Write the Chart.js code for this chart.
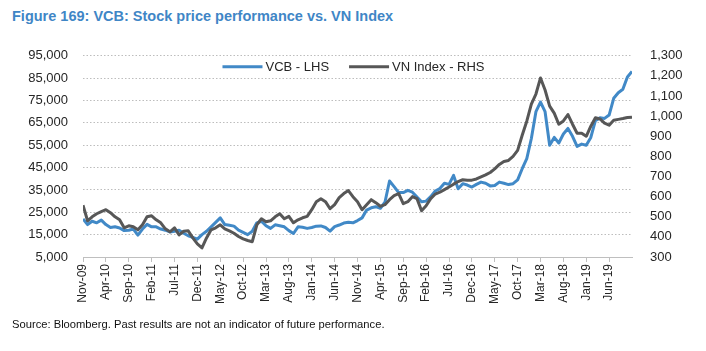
<!DOCTYPE html>
<html>
<head>
<meta charset="utf-8">
<script src="https://cdn.jsdelivr.net/npm/chart.js@4.4.1/dist/chart.umd.min.js"></script>
<style>
  html, body { margin: 0; padding: 0; background: #fff; }
  body { width: 706px; height: 351px; position: relative; overflow: hidden; font-family: 'Liberation Sans', Arial, sans-serif; }
  #title { position: absolute; left: 12px; top: 8px; font-weight: bold; font-size: 14.5px; color: #3f86c6; white-space: nowrap; }
  #wrap { position: absolute; left: 0; top: 30px; width: 706px; height: 290px; }
  #source { position: absolute; left: 12px; top: 318px; font-size: 11.2px; color: #111; white-space: nowrap; }
</style>
</head>
<body>
<div id="title">Figure 169: VCB: Stock price performance vs. VN Index</div>
<div id="wrap"><canvas id="chart"></canvas></div>
<div id="source">Source: Bloomberg. Past results are not an indicator of future performance.</div>
<script>
// x-axis tick labels, one every 5 months starting Nov-09
const tickLabels = ['Nov-09', 'Apr-10', 'Sep-10', 'Feb-11', 'Jul-11', 'Dec-11', 'May-12', 'Oct-12',
  'Mar-13', 'Aug-13', 'Jan-14', 'Jun-14', 'Nov-14', 'Apr-15', 'Sep-15', 'Feb-16', 'Jul-16', 'Dec-16',
  'May-17', 'Oct-17', 'Mar-18', 'Aug-18', 'Jan-19', 'Jun-19'];

// VCB share price (VND), one value per month from Nov-09
const vcb = [
  22000, 19500, 21000, 20300, 21500, 19500, 18200, 18500, 18000, 16800,
  17000, 17500, 14800, 17500, 19600, 18500, 18500, 17500, 17000, 16200,
  16500, 17000, 15600, 14500, 13800, 13000, 15000, 16500, 18500, 20500,
  22500, 19500, 19200, 18800, 17000, 16000, 15000, 16500, 20300, 21000,
  19000, 17800, 19400, 19000, 18500, 16800, 15500, 18500, 18300, 17800,
  18200, 18800, 18900, 18200, 16600, 18600, 19300, 20200, 20500, 20300,
  21300, 22500, 26000, 27000, 27500, 26800, 29500, 39000, 36500, 33800,
  33800, 34800, 34000, 31800, 29700, 30000, 32000, 34500, 35600, 38000,
  37500, 41500, 35500, 37800, 37200, 36300, 37500, 38500, 38000, 36800,
  37000, 38500, 38000, 37400, 37800, 39500, 44500, 49000, 58000, 70000,
  74300, 70000, 55000, 58500, 56000, 60000, 62500, 59000, 54500, 55500,
  55000, 58500, 66000, 67300, 67000, 68500, 76000, 78500, 80000, 85500,
  88000
];

// VN Index level, one value per month from Nov-09
const vnIndex = [
  557, 480, 500, 515, 526, 535, 520, 500, 485, 445,
  455, 450, 435, 460, 500, 505, 485, 470, 440, 425,
  445, 410, 428, 430, 395, 365, 345, 395, 435, 445,
  460, 440, 430, 418, 402, 390, 382, 376, 460, 490,
  475, 480, 500, 515, 490, 502, 470, 485, 495, 502,
  535, 575, 590, 575, 540, 560, 595, 615, 630, 600,
  575, 535, 560, 585, 570, 552, 560, 585, 605, 615,
  565, 575, 600, 590, 530, 555, 590, 613, 622, 635,
  648, 662, 675, 684, 681, 682, 688, 698, 708, 720,
  738, 760, 775, 780, 800, 830, 905, 975, 1060, 1110,
  1190, 1130, 1050, 1015, 960, 976, 1008, 960, 915, 915,
  900, 950, 992, 986, 965, 955, 980, 984, 988, 993,
  995
];

const BLUE = '#4189c7';
const GREY = '#575757';
const TEXT = '#262626';
const FONT = "'Liberation Sans', Arial, sans-serif";

const toPoints = (arr) => arr.map((v, i) => ({ x: i, y: v }));
const fmt = (v) => Number(v).toLocaleString('en-US');

// legend drawn inside the plot, centred under the top gridline
const insideLegend = {
  id: 'insideLegend',
  afterDatasetsDraw(chart) {
    const { ctx, chartArea } = chart;
    const sets = chart.data.datasets;
    const lineW = 40, gapText = 3, gapItem = 20;
    ctx.save();
    ctx.font = `13px ${FONT}`;
    const widths = sets.map((ds) => ctx.measureText(ds.label).width);
    let total = widths.reduce((a, w) => a + lineW + gapText + w, 0) + gapItem * (sets.length - 1);
    let x = (chartArea.left + chartArea.right) / 2 - total / 2 - 4;
    const y = chartArea.top + 11;
    ctx.textBaseline = 'middle';
    ctx.textAlign = 'left';
    sets.forEach((ds, i) => {
      ctx.strokeStyle = ds.borderColor;
      ctx.lineWidth = 3;
      ctx.beginPath();
      ctx.moveTo(x, y);
      ctx.lineTo(x + lineW, y);
      ctx.stroke();
      x += lineW + gapText;
      ctx.fillStyle = TEXT;
      ctx.fillText(ds.label, x, y + 0.5);
      x += widths[i] + gapItem;
    });
    ctx.restore();
  },
};

new Chart(document.getElementById('chart'), {
  type: 'line',
  data: {
    datasets: [
      {
        label: 'VCB - LHS',
        data: toPoints(vcb),
        yAxisID: 'y',
        borderColor: BLUE,
        backgroundColor: BLUE,
        borderWidth: 3,
        pointRadius: 0,
        tension: 0,
        borderJoinStyle: 'round',
        order: 1,
      },
      {
        label: 'VN Index - RHS',
        data: toPoints(vnIndex),
        yAxisID: 'y2',
        borderColor: GREY,
        backgroundColor: GREY,
        borderWidth: 3,
        pointRadius: 0,
        tension: 0,
        borderJoinStyle: 'round',
        order: 0,
      },
    ],
  },
  plugins: [insideLegend],
  options: {
    responsive: true,
    maintainAspectRatio: false,
    animation: false,
    devicePixelRatio: 1,
    layout: { padding: { top: 15, left: 0, right: 0, bottom: 0 } },
    plugins: {
      tooltip: { enabled: false },
      legend: { display: false },
    },
    scales: {
      x: {
        type: 'linear',
        min: 0,
        max: 120,
        afterBuildTicks: (axis) => {
          axis.ticks = tickLabels.map((_, i) => ({ value: i * 5 }));
        },
        afterFit: (axis) => { axis.height = 63; },
        ticks: {
          autoSkip: false,
          minRotation: 90,
          maxRotation: 90,
          padding: 2,
          color: TEXT,
          font: { family: FONT, size: 12 },
          callback: (v) => tickLabels[Math.round(v / 5)],
        },
        grid: { display: true, drawOnChartArea: false, drawTicks: true, tickLength: 5, color: '#bfbfbf' },
        border: { display: true, color: '#bfbfbf', width: 1 },
      },
      y: {
        position: 'left',
        min: 5000,
        max: 95000,
        afterFit: (axis) => { axis.width = 83; },
        ticks: {
          stepSize: 10000,
          padding: 15,
          color: TEXT,
          font: { family: FONT, size: 13 },
          callback: fmt,
        },
        grid: { color: '#bdbdbd', drawTicks: false, lineWidth: 1 },
        border: { display: false, dash: [1.5, 2] },
      },
      y2: {
        position: 'right',
        min: 300,
        max: 1300,
        afterFit: (axis) => { axis.width = 74; },
        ticks: {
          stepSize: 100,
          padding: 18,
          color: TEXT,
          font: { family: FONT, size: 13 },
          callback: fmt,
        },
        grid: { display: false, drawTicks: false },
        border: { display: false },
      },
    },
  },
});
</script>
</body>
</html>
